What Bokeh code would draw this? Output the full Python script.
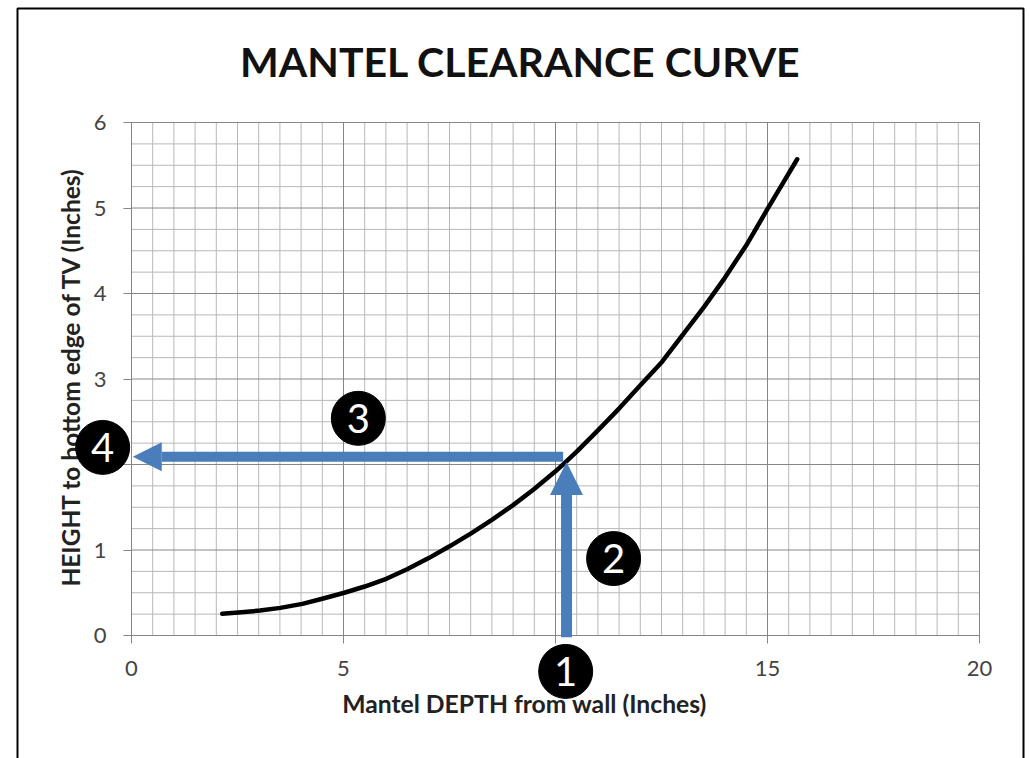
from math import pi
from bokeh.plotting import figure
from bokeh.embed import file_html
from bokeh.resources import INLINE
from bokeh.core.properties import value
from bokeh.models import Arrow, NormalHead, BoxAnnotation, Label, FixedTicker, LinearAxis, Range1d

FONT = "Lato"
TITLE = "MANTEL CLEARANCE CURVE"
X_LABEL = "Mantel DEPTH  from wall (Inches)"
Y_LABEL = "HEIGHT to bottom edge of TV (Inches)"

curve_x = [2.14, 2.52, 3.03, 3.51, 4.03, 4.50, 5.02, 5.50, 6.01, 6.50, 7.01, 7.49, 8.01, 8.49, 9.00, 9.49,
           10.0, 10.2, 10.5, 11.0, 11.51, 11.99, 12.51, 12.99, 13.50, 13.99, 14.52, 14.99, 15.35, 15.70]
curve_y = [0.254, 0.268, 0.292, 0.323, 0.37, 0.43, 0.50, 0.573, 0.663, 0.775, 0.905, 1.04, 1.195, 1.35, 1.525, 1.71,
           1.92, 2.01, 2.15, 2.40, 2.66, 2.92, 3.20, 3.51, 3.84, 4.18, 4.58, 4.98, 5.28, 5.57]

x_ticks = [0, 5, 10, 15, 20]
y_ticks = [0, 1, 2, 3, 4, 5, 6]
x_minor = [0.5, 1, 1.5, 2, 2.5, 3, 3.5, 4, 4.5, 5.5, 6, 6.5, 7, 7.5, 8, 8.5, 9, 9.5,
           10.5, 11, 11.5, 12, 12.5, 13, 13.5, 14, 14.5, 15.5, 16, 16.5, 17, 17.5, 18, 18.5, 19, 19.5]
y_minor = [0.25, 0.5, 0.75, 1.25, 1.5, 1.75, 2.25, 2.5, 2.75, 3.25, 3.5, 3.75,
           4.25, 4.5, 4.75, 5.25, 5.5, 5.75]

arrow_up = (10.26, -0.02, 10.26, 2.03)
arrow_left = (10.18, 2.09, 0.03, 2.09)

badge_num = ["1", "2", "3", "4"]
badge_x = [10.24, 11.37, 5.35, -0.68]
badge_y = [-0.42, 0.90, 2.54, 2.20]

BLUE = "#4a7ebb"
MAJOR = "#868686"
MINOR = "#b8b8b8"

W, H = 1030, 758
X0, Y0 = 131, 635          # pixel of the data origin
SX, SY = 42.4, 85.5        # pixels per data unit

p = figure(width=W, height=H, output_backend="svg", toolbar_location=None,
           x_range=Range1d(-X0 / SX, (W - X0) / SX), y_range=Range1d((Y0 - H) / SY, Y0 / SY),
           x_axis_type=None, y_axis_type=None, min_border=0,
           background_fill_color="white", border_fill_color="white", outline_line_color=None)
p.grid.visible = False

# Grid
p.segment(x_minor, [0] * len(x_minor), x_minor, [6] * len(x_minor), line_color=MINOR, line_width=1)
p.segment([0] * len(y_minor), y_minor, [20] * len(y_minor), y_minor, line_color=MINOR, line_width=1)
p.segment(x_ticks, [0] * len(x_ticks), x_ticks, [6] * len(x_ticks), line_color=MAJOR, line_width=1)
p.segment([0] * len(y_ticks), y_ticks, [20] * len(y_ticks), y_ticks, line_color=MAJOR, line_width=1)

# Axes, pinned to the data origin
xaxis = LinearAxis(ticker=FixedTicker(ticks=x_ticks), fixed_location=0, bounds=(0, 20))
yaxis = LinearAxis(ticker=FixedTicker(ticks=y_ticks), fixed_location=0, bounds=(0, 6))
p.add_layout(xaxis, "below")
p.add_layout(yaxis, "left")
for ax in (xaxis, yaxis):
    ax.axis_line_color = MAJOR
    ax.major_tick_line_color = MAJOR
    ax.major_tick_out = 8
    ax.major_tick_in = 0
    ax.minor_tick_line_color = None
    ax.major_label_text_font = FONT
    ax.major_label_text_font_size = "22px"
    ax.major_label_text_color = "#444444"
xaxis.major_label_standoff = 17
yaxis.major_label_standoff = 17

p.line(curve_x, curve_y, line_color="black", line_width=4.5, line_cap="round", line_join="round")

p.add_layout(Arrow(end=NormalHead(size=33, fill_color=BLUE, line_color=BLUE, line_width=0),
                   x_start=arrow_up[0], y_start=arrow_up[1], x_end=arrow_up[2], y_end=arrow_up[3],
                   line_color=BLUE, line_width=11))
p.add_layout(Arrow(end=NormalHead(size=29, fill_color=BLUE, line_color=BLUE, line_width=0),
                   x_start=arrow_left[0], y_start=arrow_left[1], x_end=arrow_left[2], y_end=arrow_left[3],
                   line_color=BLUE, line_width=10))

# Texts
p.add_layout(Label(x=(520 - X0) / SX, y=(Y0 - 61) / SY, text=TITLE, text_font=FONT,
                   text_font_style="bold", text_font_size="41px", text_color="#111111",
                   text_align="center", text_baseline="middle"))
p.add_layout(Label(x=(527 - X0) / SX, y=(Y0 - 703) / SY, text=X_LABEL, text_font=FONT,
                   text_font_style="bold", text_font_size="24.7px", text_color="#222222",
                   text_align="center", text_baseline="middle"))
p.add_layout(Label(x=(70 - X0) / SX, y=(Y0 - 376) / SY, text=Y_LABEL, text_font=FONT, angle=pi / 2,
                   text_font_style="bold", text_font_size="24.5px", text_color="#222222",
                   text_align="center", text_baseline="middle"))

# Numbered badges
p.scatter(badge_x, badge_y, size=54, marker="circle", fill_color="black", line_color="black", level="overlay")
p.text(badge_x, badge_y, text=badge_num, text_color="white", text_font=value(FONT), text_font_size="40px",
       text_align="center", text_baseline="middle", level="overlay")

# Outer black frame of the picture, open at the foot of the page
p.add_layout(BoxAnnotation(left=17, right=1023, top=H - 8, bottom=-20, left_units="screen",
                           right_units="screen", top_units="screen", bottom_units="screen",
                           fill_alpha=0, line_color="black", line_alpha=1, line_width=2, editable=False))

open("out.html", "w").write(file_html(p, INLINE))
